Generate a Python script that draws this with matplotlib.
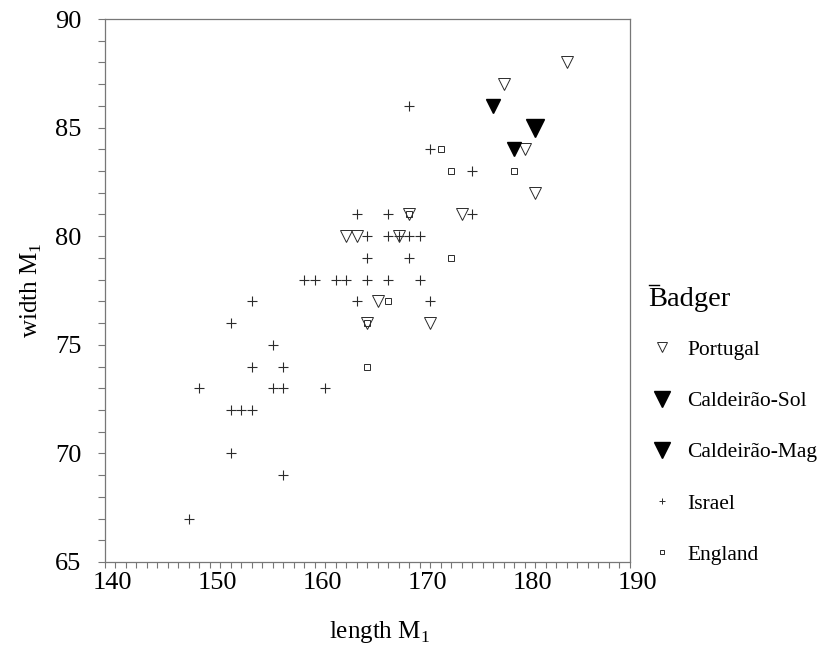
import matplotlib
matplotlib.use("Agg")
import matplotlib.pyplot as plt
from matplotlib.lines import Line2D
from matplotlib.ticker import MultipleLocator
from matplotlib.transforms import ScaledTranslation

plt.rcParams["font.family"] = ["Liberation Serif", "DejaVu Serif"]
plt.rcParams["mathtext.fontset"] = "custom"
plt.rcParams["mathtext.rm"] = "Liberation Serif"

# length M1 / width M1 per badger group
portugal_x = [184, 178, 180, 181, 163, 164, 169, 174, 168, 166, 165, 171]
portugal_y = [88, 87, 84, 82, 80, 80, 81, 81, 80, 77, 76, 76]

sol_x = [181]
sol_y = [85]

mag_x = [177, 179]
mag_y = [86, 84]

israel_x = [169, 171, 175, 164, 167, 175, 165, 167, 168, 169, 170, 165, 169,
            159, 160, 162, 163, 165, 167, 170, 154, 164, 171, 152, 156, 154,
            157, 149, 156, 157, 161, 152, 153, 154, 152, 157, 148]
israel_y = [86, 84, 83, 81, 81, 81, 80, 80, 80, 80, 80, 79, 79,
            78, 78, 78, 78, 78, 78, 78, 77, 77, 77, 76, 75, 74,
            74, 73, 73, 73, 73, 72, 72, 72, 70, 69, 67]

england_x = [172, 173, 179, 173, 167, 165, 169, 165]
england_y = [84, 83, 83, 79, 77, 74, 81, 76]

labels = ["Portugal", "Caldeirão-Sol", "Caldeirão-Mag", "Israel", "England"]
x_ticks = [140, 150, 160, 170, 180, 190]

ink = "#2b2b2b"
frame = "#777777"

fig = plt.figure(figsize=(8.17, 6.45), dpi=100)
ax = fig.add_axes([105 / 817, 1 - 562 / 645, 525 / 817, 543 / 645])

ax.plot(israel_x, israel_y, ls="none", marker="+", ms=6.5, mew=0.8, color=ink)
ax.plot(england_x, england_y, ls="none", marker="s", ms=4.0, mew=0.7,
        mfc="none", mec=ink)
ax.plot(portugal_x, portugal_y, ls="none", marker="v", ms=8.0, mew=0.7,
        mfc="none", mec=ink)
ax.plot(mag_x, mag_y, ls="none", marker="v", ms=10.5, color="black")
ax.plot(sol_x, sol_y, ls="none", marker="v", ms=13.5, color="black")

ax.set_xlim(140, 190)
ax.set_ylim(65, 90)
ax.set_xticks(x_ticks)
ax.xaxis.set_minor_locator(MultipleLocator(1))
ax.yaxis.set_major_locator(MultipleLocator(5))
ax.yaxis.set_minor_locator(MultipleLocator(1))
ax.tick_params(which="both", direction="out", color=frame, width=0.8,
               top=False, right=False, labelsize=19)
ax.tick_params(axis="x", which="both", length=4, pad=3)
ax.tick_params(axis="y", which="both", length=5, pad=12)
for s in ax.spines.values():
    s.set_color(frame)
    s.set_linewidth(0.9)

# the printed x numbers sit a few pixels right of their ticks
shift = ScaledTranslation(7 / 100, 0, fig.dpi_scale_trans)
for t in ax.xaxis.get_major_ticks():
    t.label1.set_transform(t.label1.get_transform() + shift)

ax.set_xlabel("length M$_1$", fontsize=18, labelpad=18)
ax.xaxis.label.set_x(0.522)
ax.set_ylabel("width M$_1$", fontsize=18, labelpad=8)

handles = [
    Line2D([], [], ls="none", marker="v", ms=6.5, mew=0.7, mfc="none", mec=ink),
    Line2D([], [], ls="none", marker="v", ms=11, color="black"),
    Line2D([], [], ls="none", marker="v", ms=11, color="black"),
    Line2D([], [], ls="none", marker="+", ms=5, mew=0.7, color=ink),
    Line2D([], [], ls="none", marker="s", ms=3.5, mew=0.7, mfc="none", mec=ink),
]
leg = ax.legend(handles, labels, loc="upper left", bbox_to_anchor=(1.005, 0.437),
                frameon=False, fontsize=15.5, labelspacing=1.45,
                handletextpad=0.55, handlelength=1.3, borderpad=0.2)

fig.text(648 / 817, 1 - 300 / 645, "Badger", fontsize=20.5, ha="left", va="center")
# short stroke over the title's first letter, as in the print
fig.add_artist(Line2D([649 / 817, 659 / 817], [1 - 285 / 645, 1 - 285 / 645],
                      color="black", lw=1.0))

fig.savefig("out.png", dpi=100)
